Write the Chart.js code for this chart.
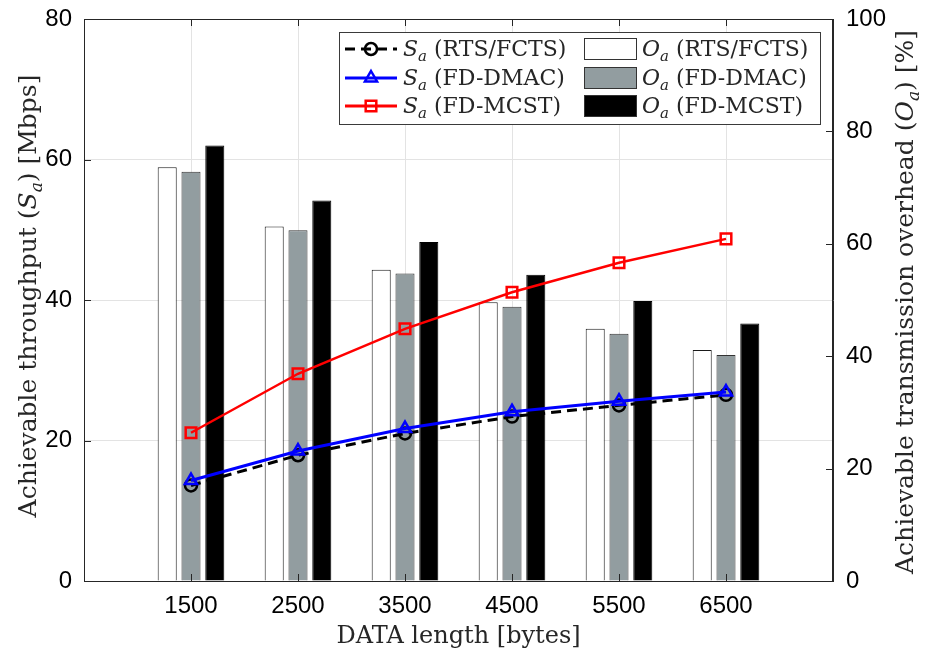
<!DOCTYPE html>
<html>
<head>
<meta charset="utf-8">
<script src="https://cdn.jsdelivr.net/npm/chart.js@4.4.1/dist/chart.umd.min.js"></script>
<style>
  html, body { margin: 0; padding: 0; background: #fff; }
  canvas { display: block; }
</style>
</head>
<body>
<canvas id="myChart" width="925" height="654"></canvas>
<script>
const dataLength = [1500, 2500, 3500, 4500, 5500, 6500];

// achievable throughput S_a [Mbps] (left axis)
const thrRtsFcts = [13.6, 17.9, 21.0, 23.4, 25.0, 26.5];
const thrFdDmac = [14.3, 18.5, 21.7, 24.1, 25.6, 26.9];
const thrFdMcst = [21.1, 29.5, 35.9, 41.1, 45.3, 48.7];

// transmission overhead O_a [%] (right axis)
const ovhRtsFcts = [73.6, 63.1, 55.4, 49.6, 44.9, 41.1];
const ovhFdDmac = [72.8, 62.4, 54.7, 48.8, 44.0, 40.2];
const ovhFdMcst = [77.5, 67.7, 60.3, 54.5, 49.8, 45.8];

const AXIS = '#262626';
const GRID = '#e3e3e3';
const GREY_BAR = '#929da0';
const SERIF = '"DejaVu Serif", serif';

const pts = (arr) => dataLength.map((x, i) => ({ x: x, y: arr[i] }));

// draw text made of pieces with different fonts (for the S_a subscripts)
function drawRich(ctx, parts, x, y, align) {
  let total = 0;
  parts.forEach(p => { ctx.font = p.font; p.w = ctx.measureText(p.t).width; total += p.w; });
  let cx = align === 'center' ? x - total / 2 : x;
  ctx.textAlign = 'left';
  ctx.textBaseline = 'alphabetic';
  parts.forEach(p => {
    ctx.font = p.font;
    ctx.fillText(p.t, cx, y + (p.dy || 0));
    cx += p.w;
  });
}

function sym(letter, rest, size) {
  return [
    { t: letter, font: 'italic ' + size + 'px ' + SERIF },
    { t: 'a', font: 'italic ' + Math.round(size * 0.68) + 'px ' + SERIF, dy: size * 0.22 },
    { t: rest, font: size + 'px ' + SERIF }
  ];
}

function marker(ctx, style, x, y, r, color, lw) {
  ctx.save();
  ctx.strokeStyle = color;
  ctx.lineWidth = lw;
  ctx.setLineDash([]);
  ctx.beginPath();
  if (style === 'circle') {
    ctx.arc(x, y, r, 0, Math.PI * 2);
  } else if (style === 'triangle') {
    ctx.moveTo(x, y - r);
    ctx.lineTo(x + r * 0.866, y + r * 0.5);
    ctx.lineTo(x - r * 0.866, y + r * 0.5);
    ctx.closePath();
  } else {
    const s = r * 0.707;
    ctx.rect(x - s, y - s, 2 * s, 2 * s);
  }
  ctx.stroke();
  ctx.restore();
}

const boxPlugin = {
  id: 'boxPlugin',
  afterDatasetsDraw(chart) {
    const { ctx, chartArea: a, scales } = chart;
    ctx.save();
    ctx.strokeStyle = AXIS;
    ctx.lineWidth = 1;
    ctx.strokeRect(a.left + 0.5, a.top + 0.5, a.right - a.left - 1, a.bottom - a.top);
    ctx.beginPath();
    const tl = 7;
    dataLength.forEach(v => {
      const px = Math.round(scales.x.getPixelForValue(v)) + 0.5;
      ctx.moveTo(px, a.bottom); ctx.lineTo(px, a.bottom - tl);
      ctx.moveTo(px, a.top); ctx.lineTo(px, a.top + tl);
    });
    [20, 40, 60].forEach(v => {
      const py = Math.round(scales.y.getPixelForValue(v)) + 0.5;
      ctx.moveTo(a.left, py); ctx.lineTo(a.left + tl, py);
    });
    [20, 40, 60, 80].forEach(v => {
      const py = Math.round(scales.y1.getPixelForValue(v)) + 0.5;
      ctx.moveTo(a.right, py); ctx.lineTo(a.right - tl, py);
    });
    ctx.stroke();
    ctx.restore();
  },
  afterDraw(chart) {
    const ctx = chart.ctx;
    ctx.save();
    ctx.fillStyle = AXIS;
    // y axis titles
    ctx.save();
    ctx.translate(28, 296);
    ctx.rotate(-Math.PI / 2);
    drawRich(ctx, [{ t: 'Achievable throughput (', font: '25px ' + SERIF }]
      .concat(sym('S', ') [Mbps]', 25)), 0, 8, 'center');
    ctx.restore();
    ctx.save();
    ctx.translate(905, 302);
    ctx.rotate(-Math.PI / 2);
    drawRich(ctx, [{ t: 'Achievable transmission overhead (', font: '25px ' + SERIF }]
      .concat(sym('O', ') [%]', 25)), 0, 8, 'center');
    ctx.restore();

    // legend
    const bx = 339.5, by = 32.5, bw = 481, bh = 92;
    ctx.fillStyle = '#fff';
    ctx.fillRect(bx, by, bw, bh);
    ctx.strokeStyle = '#3a3a3a';
    ctx.lineWidth = 1;
    ctx.strokeRect(bx, by, bw, bh);
    const rows = [49, 78, 106];
    const lineItems = [
      { color: '#000', dash: [10, 6], style: 'circle', r: 6, label: ' (RTS/FCTS)' },
      { color: '#0000ff', dash: [], style: 'triangle', r: 7, label: ' (FD-DMAC)' },
      { color: '#ff0000', dash: [], style: 'rect', r: 7.5, label: ' (FD-MCST)' }
    ];
    const barItems = [
      { fill: '#fff', label: ' (RTS/FCTS)' },
      { fill: GREY_BAR, label: ' (FD-DMAC)' },
      { fill: '#000', label: ' (FD-MCST)' }
    ];
    rows.forEach((ry, i) => {
      const li = lineItems[i];
      ctx.save();
      ctx.strokeStyle = li.color;
      ctx.lineWidth = 3;
      ctx.setLineDash(li.dash);
      ctx.beginPath();
      ctx.moveTo(345, ry); ctx.lineTo(397, ry);
      ctx.stroke();
      ctx.restore();
      marker(ctx, li.style, 371, ry, li.r, li.color, 2.5);
      ctx.fillStyle = AXIS;
      drawRich(ctx, sym('S', li.label, 22), 403, ry + 7, 'left');

      const bi = barItems[i];
      ctx.fillStyle = bi.fill;
      ctx.fillRect(584.5, ry - 10.5, 52, 21);
      ctx.strokeStyle = '#333';
      ctx.strokeRect(584.5, ry - 10.5, 52, 21);
      ctx.fillStyle = AXIS;
      drawRich(ctx, sym('O', bi.label, 22), 642, ry + 7, 'left');
    });
    ctx.restore();
  }
};

const lineDs = (data, color, width, dash, style, r, order) => ({
  type: 'line',
  data: pts(data),
  yAxisID: 'y',
  borderColor: color,
  borderWidth: width,
  borderDash: dash,
  pointStyle: style,
  pointRadius: r,
  pointBorderWidth: 2.5,
  pointBorderColor: color,
  pointBackgroundColor: 'transparent',
  tension: 0,
  order: order
});

const barDs = (data, fill, edge) => ({
  type: 'bar',
  data: pts(data),
  yAxisID: 'y1',
  backgroundColor: fill,
  borderColor: edge,
  borderWidth: 1,
  categoryPercentage: 0.667,
  barPercentage: 0.8,
  order: 10
});

const tickFont = { family: '"Liberation Sans", Arial, sans-serif', size: 24 };

const fitY = (w) => (scale) => {
  scale.width = w;
  scale.paddingTop = 0;
  scale.paddingBottom = 0;
};

const config = {
  type: 'bar',
  data: {
    datasets: [
      barDs(ovhRtsFcts, '#fff', '#1a1a1a'),
      barDs(ovhFdDmac, GREY_BAR, '#333'),
      barDs(ovhFdMcst, '#000', '#000'),
      lineDs(thrRtsFcts, '#000', 3, [10, 6], 'circle', 6, 3),
      lineDs(thrFdDmac, '#0000ff', 3, [], 'triangle', 7, 2),
      lineDs(thrFdMcst, '#ff0000', 2.5, [], 'rect', 7.5, 1)
    ]
  },
  options: {
    responsive: false,
    animation: false,
    layout: { padding: { top: 19, left: 0, right: 0, bottom: 0 } },
    plugins: {
      legend: { display: false },
      tooltip: { enabled: false }
    },
    scales: {
      x: {
        type: 'linear',
        min: 500,
        max: 7500,
        offset: false,
        afterBuildTicks: (axis) => { axis.ticks = dataLength.map(v => ({ value: v })); },
        afterFit: (scale) => { scale.height = 73; scale.paddingLeft = 0; scale.paddingRight = 0; },
        grid: { color: GRID, offset: false, drawTicks: false },
        border: { color: AXIS },
        ticks: { color: '#000', font: tickFont, padding: 11, autoSkip: false, maxRotation: 0, callback: (v) => String(v) },
        title: {
          display: true,
          text: 'DATA length [bytes]',
          color: AXIS,
          font: { family: SERIF, size: 24 },
          padding: { top: 0, bottom: 3 }
        }
      },
      y: {
        position: 'left',
        min: 0,
        max: 80,
        afterFit: fitY(84),
        grid: { color: GRID, drawTicks: false },
        border: { color: AXIS },
        ticks: { stepSize: 20, color: '#000', font: tickFont, padding: 12 }
      },
      y1: {
        position: 'right',
        min: 0,
        max: 100,
        afterFit: fitY(92),
        grid: { drawOnChartArea: false, drawTicks: false },
        border: { color: AXIS },
        ticks: { stepSize: 20, color: '#000', font: tickFont, padding: 13 }
      }
    }
  },
  plugins: [boxPlugin]
};

const ctx = document.getElementById('myChart').getContext('2d');
const myChart = new Chart(ctx, config);
</script>
</body>
</html>
